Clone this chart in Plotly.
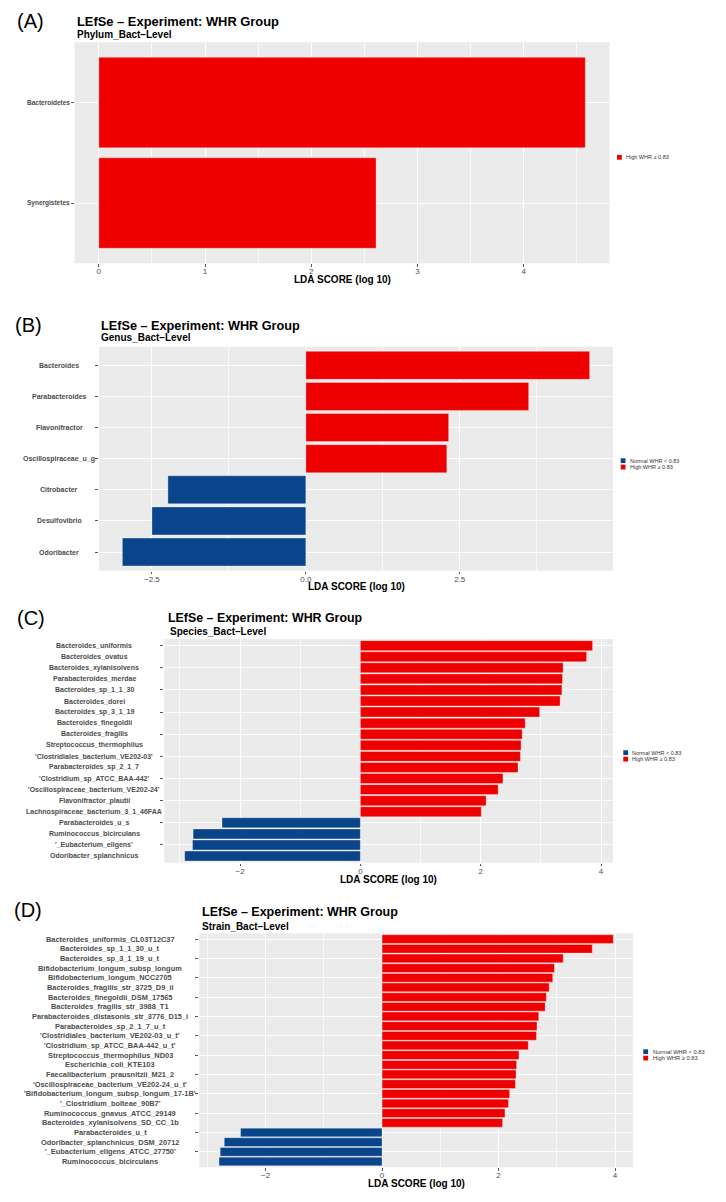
import plotly.graph_objects as go

W, H = 726, 1202

# ---------------- data ----------------
phylum_taxa = ["Bacteroidetes", "Synergistetes"]
phylum_lda = [4.58, 2.61]

genus_taxa = ["Bacteroides", "Parabacteroides", "Flavonifractor", "Oscillospiraceae_u_g",
              "Citrobacter", "Desulfovibrio", "Odoribacter"]
genus_lda = [4.61, 3.62, 2.32, 2.29, -2.24, -2.50, -2.98]

species_taxa = [
    "Bacteroides_uniformis", "Bacteroides_ovatus", "Bacteroides_xylanisolvens",
    "Parabacteroides_merdae", "Bacteroides_sp_1_1_30", "Bacteroides_dorei",
    "Bacteroides_sp_3_1_19", "Bacteroides_finegoldii", "Bacteroides_fragilis",
    "Streptococcus_thermophilus", "'Clostridiales_bacterium_VE202-03'",
    "Parabacteroides_sp_2_1_7", "'Clostridium_sp_ATCC_BAA-442'",
    "'Oscillospiraceae_bacterium_VE202-24'", "Flavonifractor_plautii",
    "Lachnospiraceae_bacterium_3_1_46FAA", "Parabacteroides_u_s",
    "Ruminococcus_bicirculans", "'_Eubacterium_eligens'", "Odoribacter_splanchnicus"]
species_lda = [3.86, 3.76, 3.37, 3.36, 3.35, 3.32, 2.98, 2.74, 2.69, 2.67,
               2.66, 2.62, 2.37, 2.29, 2.09, 2.01, -2.30, -2.78, -2.79, -2.92]

strain_taxa = [
    "Bacteroides_uniformis_CL03T12C37", "Bacteroides_sp_1_1_30_u_t", "Bacteroides_sp_3_1_19_u_t",
    "Bifidobacterium_longum_subsp_longum", "Bifidobacterium_longum_NCC2705",
    "Bacteroides_fragilis_str_3725_D9_ii", "Bacteroides_finegoldii_DSM_17565",
    "Bacteroides_fragilis_str_3988_T1", "Parabacteroides_distasonis_str_3776_D15_i",
    "Parabacteroides_sp_2_1_7_u_t", "'Clostridiales_bacterium_VE202-03_u_t'",
    "'Clostridium_sp_ATCC_BAA-442_u_t'", "Streptococcus_thermophilus_ND03",
    "Escherichia_coli_KTE103", "Faecalibacterium_prausnitzii_M21_2",
    "'Oscillospiraceae_bacterium_VE202-24_u_t'", "'Bifidobacterium_longum_subsp_longum_17-1B'",
    "'_Clostridium_bolteae_90B7'", "Ruminococcus_gnavus_ATCC_29149",
    "Bacteroides_xylanisolvens_SD_CC_1b", "Parabacteroides_u_t",
    "Odoribacter_splanchnicus_DSM_20712", "'_Eubacterium_eligens_ATCC_27750'",
    "Ruminococcus_bicirculans"]
strain_lda = [3.97, 3.61, 3.11, 2.96, 2.93, 2.87, 2.82, 2.80, 2.69, 2.66, 2.65, 2.51,
              2.35, 2.31, 2.30, 2.29, 2.19, 2.17, 2.11, 2.07, -2.43, -2.71, -2.78, -2.80]

group_keys = ["Normal", "High"]
group_labels = {"Normal": "Normal WHR &lt; 0.83", "High": "High WHR ≥ 0.83"}
group_colors = {"Normal": "#0A458B", "High": "#EE0000"}

main_title = "LEfSe – Experiment: WHR Group"
x_title = "LDA SCORE (log 10)"

# ---------------- layout per panel (pixel geometry) ----------------
panels = [
    dict(tag="(A)", level="Phylum_Bact–Level", taxa=phylum_taxa, lda=phylum_lda,
         box=(74.5, 42.3, 609.6, 263.3), dtick=1, fmt="", tag_xy=(30, 21.5),
         title_xy=(74.5, 22), title_size=12.9, sub_xy=(74.5, 35),
         lab_cx=48.4, lab_size=6.5, xt_y=279,
         leg=(617, 157.3, 624.3, 5.5)),
    dict(tag="(B)", level="Genus_Bact–Level", taxa=genus_taxa, lda=genus_lda,
         box=(99, 346.7, 613, 570.7), dtick=2.5, fmt=".1f", tag_xy=(28, 325),
         title_xy=(99, 326), title_size=12.7, sub_xy=(99, 338),
         lab_cx=59, lab_size=7, xt_y=586,
         leg=(620.7, 460.7, 628.3, 5.5)),
    dict(tag="(C)", level="Species_Bact–Level", taxa=species_taxa, lda=species_lda,
         box=(164.3, 639, 613, 862.7), dtick=2, fmt="", tag_xy=(31, 617.5),
         title_xy=(166, 618), title_size=12.4, sub_xy=(168, 631),
         lab_cx=94, lab_size=7, xt_y=879,
         leg=(623.3, 752.7, 630, 5.5)),
    dict(tag="(D)", level="Strain_Bact–Level", taxa=strain_taxa, lda=strain_lda,
         box=(199.3, 933.3, 633, 1167.3), dtick=2, fmt="", tag_xy=(28, 909.5),
         title_xy=(200, 912), title_size=12.5, sub_xy=(200, 926),
         lab_cx=110, lab_size=7.4, xt_y=1183,
         leg=(643.3, 1051.7, 651, 5.75)),
]

FONT = "Liberation Sans, Arial, Helvetica, sans-serif"
GRAY = "#4d4d4d"


def px(x):
    return x / W


def py(y):
    return 1 - y / H


fig = go.Figure()
annotations = []
shapes = []
layout_axes = {}

for i, p in enumerate(panels, start=1):
    xa = "x" if i == 1 else f"x{i}"
    ya = "y" if i == 1 else f"y{i}"
    taxa, lda = p["taxa"], p["lda"]
    groups = ["High" if v >= 0 else "Normal" for v in lda]

    for g in group_keys:
        xs = [v for v, gg in zip(lda, groups) if gg == g]
        ys = [t for t, gg in zip(taxa, groups) if gg == g]
        if not xs:
            continue
        fig.add_trace(go.Bar(
            x=xs, y=ys, orientation="h", name=group_labels[g],
            marker=dict(color=group_colors[g], line=dict(color="rgba(255,255,255,0.55)", width=0.6)),
            xaxis=xa, yaxis=ya, showlegend=False))

    x0, y0, x1, y1 = p["box"]
    lo, hi = min(0, min(lda)), max(0, max(lda))
    pad = 0.05 * (hi - lo)
    n = len(taxa)

    layout_axes["xaxis" if i == 1 else f"xaxis{i}"] = dict(
        domain=[px(x0), px(x1)], anchor=ya, range=[lo - pad, hi + pad],
        dtick=p["dtick"], tick0=0, tickformat=p["fmt"],
        showgrid=True, gridcolor="white", gridwidth=1,
        minor=dict(dtick=p["dtick"] / 2, tick0=0, showgrid=True, gridcolor="rgba(255,255,255,0.7)", gridwidth=0.5),
        zeroline=False, showline=False,
        ticks="outside", ticklen=2.5, tickwidth=0.6, tickcolor="#555",
        ticklabelstandoff=-2,
        tickfont=dict(family=FONT, size=8, color=GRAY), fixedrange=True)
    layout_axes["yaxis" if i == 1 else f"yaxis{i}"] = dict(
        domain=[py(y1), py(y0)], anchor=xa, type="category",
        categoryorder="array", categoryarray=taxa, range=[n - 0.4, -0.6],
        showgrid=True, gridcolor="white", gridwidth=1, zeroline=False,
        ticks="outside", ticklen=3, tickwidth=0.6, tickcolor="#555",
        showticklabels=False, fixedrange=True)

    # centred category labels
    for t in taxa:
        annotations.append(dict(
            x=px(p["lab_cx"]), xref="paper", y=t, yref=ya, text=t, showarrow=False,
            xanchor="center", yanchor="middle",
            font=dict(family=FONT, size=p["lab_size"], color=GRAY, weight="bold")))

    # panel tag, title, subtitle, x title
    tx, ty = p["tag_xy"]
    annotations.append(dict(x=px(tx), y=py(ty), xref="paper", yref="paper", text=p["tag"],
                            showarrow=False, xanchor="center", yanchor="middle",
                            font=dict(family=FONT, size=20, color="black")))
    ttx, tty = p["title_xy"]
    annotations.append(dict(x=px(ttx), y=py(tty), xref="paper", yref="paper", text=main_title,
                            showarrow=False, xanchor="left", yanchor="middle",
                            font=dict(family=FONT, size=p["title_size"], color="black", weight="bold")))
    sx, sy = p["sub_xy"]
    annotations.append(dict(x=px(sx), y=py(sy), xref="paper", yref="paper", text=p["level"],
                            showarrow=False, xanchor="left", yanchor="middle",
                            font=dict(family=FONT, size=10, color="black", weight="bold")))
    annotations.append(dict(x=px((x0 + x1) / 2), y=py(p["xt_y"]), xref="paper", yref="paper",
                            text=x_title, showarrow=False, xanchor="center", yanchor="middle",
                            font=dict(family=FONT, size=10, color="black", weight="bold")))

    # legend (only groups present)
    lx, ly, ltx, lfs = p["leg"]
    present = [g for g in group_keys if g in groups]
    for k, g in enumerate(present):
        yy = ly + k * 6.4
        shapes.append(dict(type="rect", xref="paper", yref="paper",
                           x0=px(lx), x1=px(lx + 4.8), y0=py(yy + 2.4), y1=py(yy - 2.4),
                           fillcolor=group_colors[g], line=dict(width=0)))
        annotations.append(dict(x=px(ltx), y=py(yy), xref="paper", yref="paper",
                                text=group_labels[g], showarrow=False, xanchor="left", yanchor="middle",
                                font=dict(family=FONT, size=lfs, color="#333")))

fig.update_layout(
    width=W, height=H, margin=dict(l=0, r=0, t=0, b=0),
    paper_bgcolor="white", plot_bgcolor="#EBEBEB",
    barmode="overlay", bargap=0.1,
    showlegend=False, annotations=annotations, shapes=shapes,
    font=dict(family=FONT),
    **layout_axes)

fig.write_html("out.html", config={"displayModeBar": False},
               post_script="document.body.style.margin='0';document.body.style.overflow='hidden';")
